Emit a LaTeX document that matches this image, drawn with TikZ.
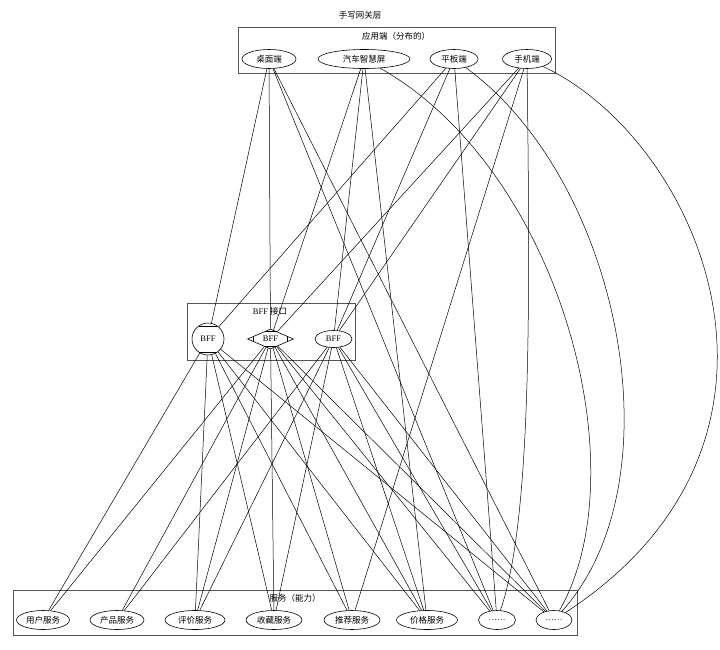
\documentclass[tikz,border=0pt]{standalone}
\usepackage{fontspec}
\setmainfont{Liberation Serif}
\newfontfamily\cjk{Noto Sans CJK SC}
\usepackage{xcolor}
\usepackage{tikz}
\usetikzlibrary{calc,shapes.geometric}
\definecolor{bg}{HTML}{FFFFFF}
\definecolor{ink}{HTML}{000000}
\definecolor{frame}{HTML}{555555}
\tikzset{
  base/.style={draw=ink, line width=0.6pt},
  grp/.style={draw=frame, line width=0.9pt},
  edge/.style={draw=ink, line width=0.5pt},
  lab/.style={text=ink, font=\fontsize{8.5}{10}\selectfont},
  oval/.style={base, ellipse, inner sep=0pt, minimum height=19pt, lab},
  mcirc/.style={base, circle, inner sep=0pt, minimum size=32pt, lab},
  mdiam/.style={base, diamond, aspect=2.3, inner sep=0pt, minimum width=46pt, minimum height=20pt, lab}
}

\begin{document}
\begin{tikzpicture}[x=1pt,y=-1pt]
  \useasboundingbox[fill=bg] (0,0) rectangle (720,649);

  \node[lab] (title) at (360,15) {\cjk 手写网关层};

  % clients
  \draw[grp] (238,27) rectangle (555,73);
  \node[lab] (applab) at (396,36) {\cjk 应用端（分布的）};
  \node[oval, minimum width=54pt] (desk)  at (269,59) {\cjk 桌面端};
  \node[oval, minimum width=92pt] (car)   at (364,59) {\cjk 汽车智慧屏};
  \node[oval, minimum width=48pt] (pad)   at (454,59) {\cjk 平板端};
  \node[oval, minimum width=49pt] (phone) at (527,59) {\cjk 手机端};

  % bff layer
  \draw[grp] (187,303) rectangle (355,360);
  \node[lab] (bfflab) at (270,311) {BFF {\cjk 接口}};
  \node[mcirc] (bffa) at (208,339) {BFF};
  \node[mdiam] (bffb) at (270.5,339) {BFF};
  \node[oval, minimum width=37pt, minimum height=17pt] (bffc) at (333.5,339) {BFF};
  \draw[base] ($(bffa.center)+(-9.3,-13)$) -- ($(bffa.center)+(9.3,-13)$);
  \draw[base] ($(bffa.center)+(-9.3,13)$) -- ($(bffa.center)+(9.3,13)$);
  \draw[base] ($(bffb.center)+(-17,-2.6)$) -- ($(bffb.center)+(-17,2.6)$);
  \draw[base] ($(bffb.center)+(17,-2.6)$) -- ($(bffb.center)+(17,2.6)$);
  \draw[base] ($(bffb.center)+(-6,-7.4)$) -- ($(bffb.center)+(6,-7.4)$);
  \draw[base] ($(bffb.center)+(-6,7.4)$) -- ($(bffb.center)+(6,7.4)$);

  % services
  \draw[grp] (13,590) rectangle (577,635);
  \node[lab] (svclab) at (295,598) {\cjk 服务（能力）};
  \node[oval, minimum width=53pt] (user)  at (43,620)  {\cjk 用户服务};
  \node[oval, minimum width=54pt] (prod)  at (117,620) {\cjk 产品服务};
  \node[oval, minimum width=60pt] (rate)  at (195,620) {\cjk 评价服务};
  \node[oval, minimum width=56pt] (fav)   at (274,620) {\cjk 收藏服务};
  \node[oval, minimum width=56pt] (rec)   at (352,620) {\cjk 推荐服务};
  \node[oval, minimum width=61pt] (price) at (427,620) {\cjk 价格服务};
  \node[oval, minimum width=37pt] (dotsa) at (497,620) {……};
  \node[oval, minimum width=36pt] (dotsb) at (554,620) {……};

  % connectors
  \foreach \s/\t in {desk/bffa, desk/bffb, desk/dotsa, desk/dotsb,
                     car/bffb, car/bffc, car/price,
                     pad/bffa, pad/bffc, pad/dotsa,
                     phone/bffb, phone/bffc, phone/rec,
                     bffa/user, bffa/rate, bffa/fav, bffa/rec, bffa/price, bffa/dotsb,
                     bffb/user, bffb/prod, bffb/rate, bffb/fav, bffb/rec, bffb/price, bffb/dotsa, bffb/dotsb,
                     bffc/prod, bffc/rate, bffc/fav, bffc/price, bffc/dotsa, bffc/dotsb}
    \draw[edge] (\s) -- (\t);

  \draw[edge] (car) .. controls (560,170) and (640,470) .. (dotsb);
  \draw[edge] (pad) .. controls (620,180) and (680,480) .. (dotsb);
  \draw[edge] (phone) .. controls (700,140) and (830,440) .. (dotsb);
  \draw[edge] (phone) .. controls (530,300) and (532,520) .. (dotsa);
\end{tikzpicture}
\end{document}
